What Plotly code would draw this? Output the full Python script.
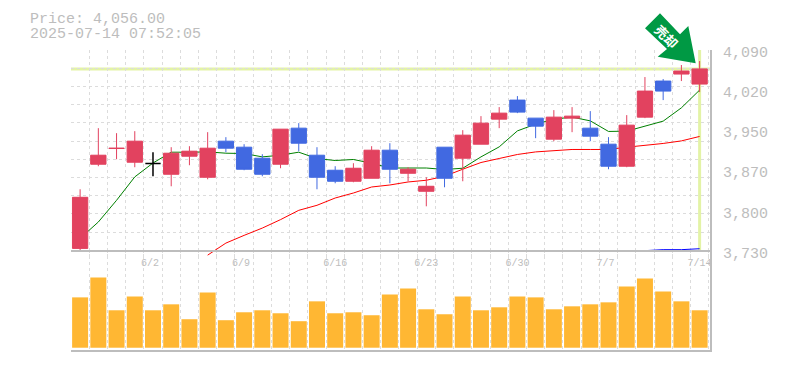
import plotly.graph_objects as go

dates = ["5/26","5/27","5/28","5/29","5/30","6/2","6/3","6/4","6/5","6/6","6/9","6/10","6/11","6/12","6/13","6/16","6/17","6/18","6/19","6/20","6/23","6/24","6/25","6/26","6/27","6/30","7/1","7/2","7/3","7/4","7/7","7/8","7/9","7/10","7/14"]
shown_ticks = {4: "6/2", 9: "6/9", 14: "6/16", 19: "6/23", 24: "6/30", 29: "7/7", 34: "7/14"}

opens = [3733.6,3884.8,3913.0,3888.4,3886.1,3866.8,3899.2,3861.4,3926.2,3915.4,3895.6,3884.8,3949.6,3901.0,3874.0,3854.2,3859.6,3910.0,3868.6,3836.2,3915.4,3895.6,3920.8,3965.8,4000.0,3967.6,3929.8,3967.6,3949.6,3920.8,3881.2,3969.4,4034.2,4046.8,4028.8]
highs = [3839.8,3949.6,3940.6,3944.2,3906.4,3915.4,3917.2,3942.4,3933.4,3920.8,3902.8,3947.8,3958.6,3915.4,3881.2,3886.6,3917.2,3922.6,3879.4,3861.4,3915.4,3946.0,3971.2,3987.4,4007.2,3967.6,3982.0,3987.4,3980.2,3933.4,3973.0,4041.4,4037.8,4063.0,4070.2]
lows = [3728.7,3881.2,3893.8,3879.4,3863.2,3845.2,3883.0,3857.8,3906.4,3874.0,3863.2,3877.6,3908.2,3839.8,3850.6,3852.4,3859.6,3850.6,3854.2,3809.2,3843.4,3854.2,3920.8,3949.6,3976.6,3931.6,3926.2,3942.4,3926.2,3875.8,3879.4,3967.6,4000.0,4034.2,4014.4]
closes = [3825.4,3901.0,3913.5,3926.2,3886.1,3904.6,3908.2,3913.6,3913.6,3875.8,3866.8,3947.8,3922.6,3861.4,3854.2,3877.6,3910.0,3875.8,3875.8,3845.2,3859.6,3937.0,3958.6,3976.6,3978.4,3953.2,3969.4,3971.2,3935.2,3881.2,3955.0,4016.2,4016.2,4052.2,4056.0]
ma_short = [3751.6,3781.0,3820.0,3862.0,3887.0,3906.4,3906.4,3907.0,3904.6,3904.0,3898.0,3901.0,3906.4,3895.0,3891.5,3893.3,3886.6,3878.0,3878.0,3878.0,3875.3,3877.6,3898.0,3916.0,3944.7,3956.8,3965.8,3969.4,3962.7,3943.7,3944.2,3953.7,3962.2,3986.1,4018.0]
ma_mid = [None]*7 + [3721.5,3743.1,3757.0,3770.1,3785.3,3802.0,3811.0,3824.1,3833.1,3843.9,3847.5,3852.9,3856.0,3863.2,3875.8,3887.9,3895.1,3902.3,3906.9,3909.5,3911.3,3911.3,3911.3,3915.4,3918.5,3922.1,3926.7,3934.7]
ma_long = [None]*31 + [3729.5,3731.3,3731.3,3733.0]
volumes = [50.7,70.7,37.7,51.7,37.7,43.7,28.7,55.7,27.7,35.7,37.7,34.7,26.7,46.7,34.7,35.7,32.7,53.7,59.7,38.7,33.7,51.7,37.7,40.7,51.7,50.7,38.7,41.7,43.7,45.7,61.7,69.7,56.7,46.7,37.7]
price_tick_vals = [4090,4018,3946,3874,3802,3730]
price_tick_text = ["4,090","4,020","3,950","3,870","3,800","3,730"]
current_price = 4056.0
title_lines = ["Price: 4,056.00","2025-07-14 07:52:05"]
arrow_label = "<b>売却</b>"

GREY = "#bdbdbd"
GRID = "#dcdcdc"
RED = "#e2425f"
BLUE = "#4169e1"
FONT = "Liberation Mono"
n = len(opens)
xs = list(range(n))
keep = [i for i in xs if i != 4]
X_RANGE = [-0.5, 34.57]

fig = go.Figure()
# Lines and grid sit on a lower subplot so that the candles cover them.
for vals, col in [(ma_short, "#008000"), (ma_mid, "#ff0000"), (ma_long, "#0000ff")]:
    fig.add_trace(go.Scatter(x=xs, y=vals, mode="lines", line=dict(color=col, width=1),
                             showlegend=False, xaxis="x", yaxis="y"))
fig.add_trace(go.Bar(x=xs, y=volumes, marker=dict(color="#ffb733", line=dict(width=0)),
                     xaxis="x2", yaxis="y2", showlegend=False))
fig.add_trace(go.Candlestick(
    x=keep, open=[opens[i] for i in keep], high=[highs[i] for i in keep],
    low=[lows[i] for i in keep], close=[closes[i] for i in keep],
    increasing=dict(line=dict(color=RED, width=1), fillcolor=RED),
    decreasing=dict(line=dict(color=BLUE, width=1), fillcolor=BLUE),
    xaxis="x3", yaxis="y3", showlegend=False))
fig.add_trace(go.Candlestick(
    x=[4], open=[opens[4]], high=[highs[4]], low=[lows[4]], close=[closes[4]],
    increasing=dict(line=dict(color="#000000", width=1.5), fillcolor="#000000"),
    decreasing=dict(line=dict(color="#000000", width=1.5), fillcolor="#000000"),
    xaxis="x3", yaxis="y3", showlegend=False))

grid_x = [i - 0.5 for i in range(n + 1)]
grid_y = [3730 + k * 360 / 11 for k in range(1, 12)]
minor_x = dict(tickmode="array", tickvals=grid_x, showgrid=True, gridcolor=GRID,
               griddash="3px,3px", gridwidth=1, ticks="")
NO_SLIDER = dict(visible=False)

fig.update_layout(
    width=785, height=370, margin=dict(l=70.7, r=75, t=50, b=20, autoexpand=False),
    paper_bgcolor="#ffffff", plot_bgcolor="rgba(0,0,0,0)",
    showlegend=False, bargap=0.122, boxgap=0.16, boxgroupgap=0,
    font=dict(family=FONT, color=GREY),
    xaxis=dict(range=X_RANGE, anchor="y", showline=False, showgrid=False, zeroline=False,
               rangeslider=NO_SLIDER, showticklabels=False, ticks="", minor=minor_x),
    yaxis=dict(domain=[94 / 300, 1], range=[3719.93, 4090], showline=False, showgrid=False,
               zeroline=False, showticklabels=False, ticks="", side="right",
               minor=dict(tickmode="array", tickvals=grid_y, showgrid=True, gridcolor=GRID,
                          griddash="3px,3px", gridwidth=1, ticks="")),
    xaxis2=dict(range=X_RANGE, matches="x", anchor="y2", showline=True, linecolor=GREY, linewidth=2,
                rangeslider=NO_SLIDER, showgrid=False, zeroline=False, showticklabels=False,
                ticks="", minor=minor_x),
    yaxis2=dict(domain=[0, 0.332], range=[-2.3, 98], side="right", showline=True, linecolor=GREY,
                linewidth=2, showgrid=False, zeroline=False, showticklabels=False, ticks=""),
    xaxis3=dict(range=X_RANGE, matches="x", anchor="y3", showline=True, linecolor=GREY, linewidth=2,
                showgrid=False, zeroline=False, rangeslider=NO_SLIDER,
                tickmode="array", tickvals=list(shown_ticks),
                ticktext=[t.ljust(4, "\u00a0") for t in shown_ticks.values()],
                ticks="outside", ticklen=2, tickcolor="rgba(0,0,0,0)",
                tickfont=dict(family=FONT, size=10, color=GREY)),
    yaxis3=dict(domain=[0.332, 1], range=[3730, 4090], side="right", anchor="x3", showline=True,
                linecolor=GREY, linewidth=2, showgrid=False, zeroline=False,
                tickmode="array", tickvals=price_tick_vals, ticktext=price_tick_text,
                ticks="outside", ticklen=8, tickcolor="rgba(0,0,0,0)", ticklabelshift=2,
                tickfont=dict(family=FONT, size=15, color=GREY)),
    shapes=[
        dict(type="line", xref="x", yref="y", x0=X_RANGE[0], x1=X_RANGE[1], y0=current_price, y1=current_price,
             line=dict(color="#e3f3a6", width=3), layer="below"),
        dict(type="line", xref="x", yref="y", x0=34, x1=34, y0=3730, y1=4090,
             line=dict(color="#e3f3a6", width=3), layer="below"),
        dict(type="path", xref="paper", yref="paper", xsizemode="pixel", ysizemode="pixel",
             xanchor=1, yanchor=1,
             path="M -50 36.7 L -65 21.7 L -43 1 L -52.3 -6.7 L -14.3 -13.3 L -21.7 24 L -30 15.7 Z",
             fillcolor="#009944", line=dict(width=0), layer="above"),
    ],
    annotations=[
        dict(xref="paper", yref="paper", x=0, y=1, xanchor="left", yanchor="middle", xshift=-43, yshift=31,
             text=title_lines[0], showarrow=False, font=dict(family=FONT, size=15, color=GREY)),
        dict(xref="paper", yref="paper", x=0, y=1, xanchor="left", yanchor="middle", xshift=-43, yshift=16,
             text=title_lines[1], showarrow=False, font=dict(family=FONT, size=15, color=GREY)),
        dict(xref="paper", yref="paper", x=1, y=1, xanchor="center", yanchor="middle",
             xshift=-43, yshift=14, text=arrow_label, textangle=45, showarrow=False,
             font=dict(family="Noto Sans CJK JP", size=13, color="#ffffff")),
    ],
)
fig.write_html("out.html", config={"displayModeBar": False},
               post_script="document.body.style.margin='0';document.documentElement.style.overflow='hidden';")
